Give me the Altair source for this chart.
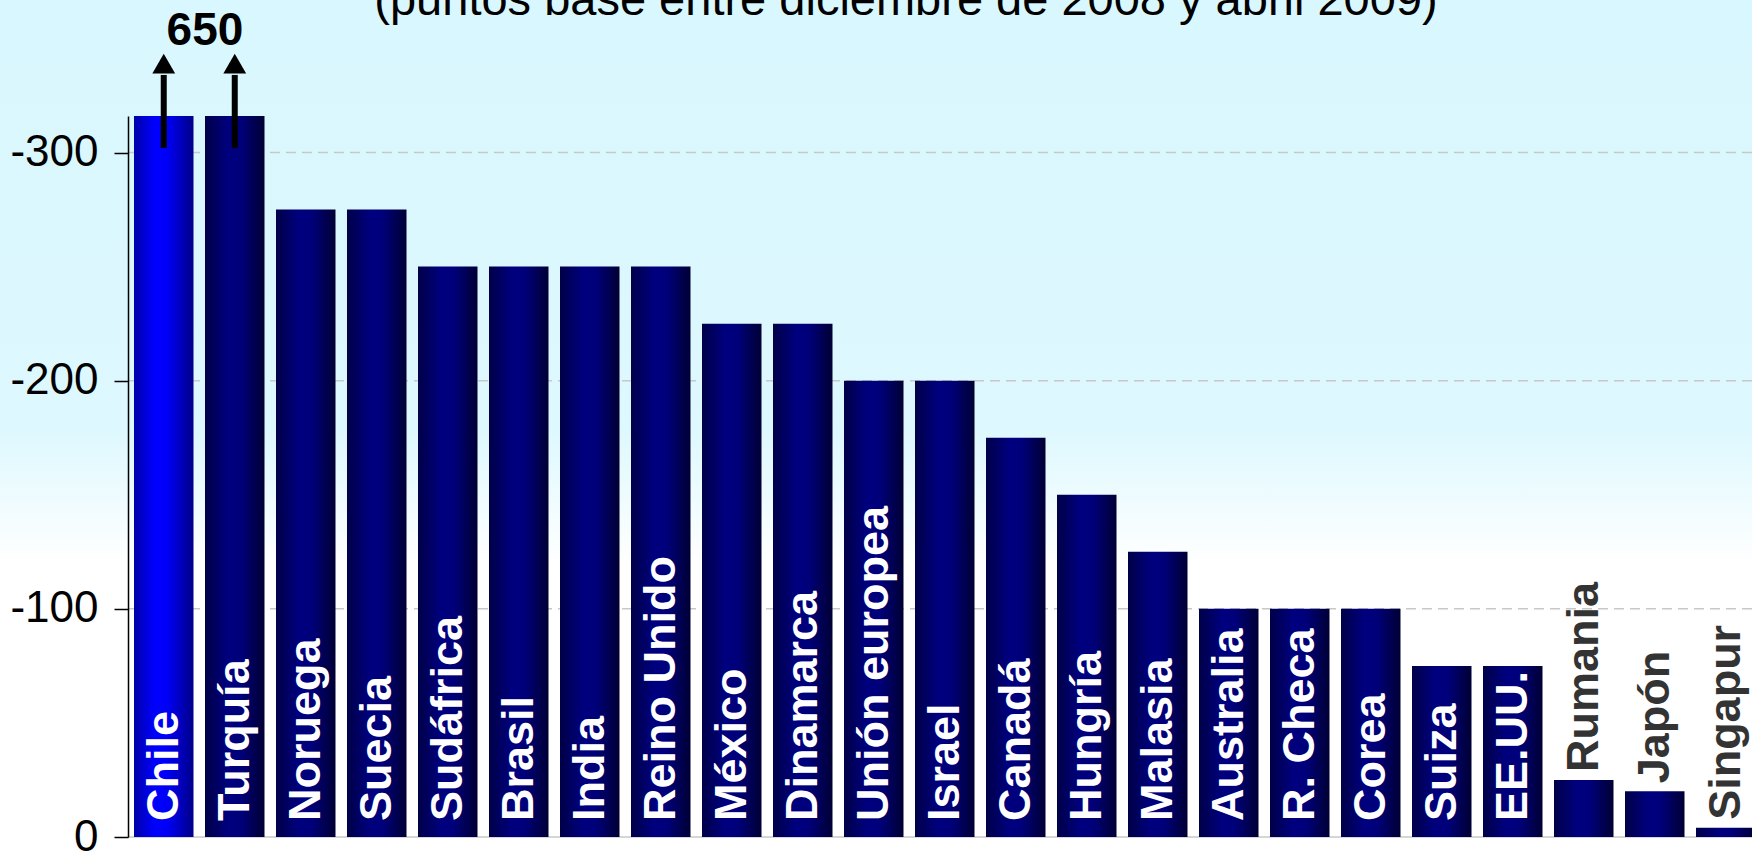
import altair as alt
import pandas as pd

# ---------------- data ----------------
paises = ["Chile", "Turquía", "Noruega", "Suecia", "Sudáfrica", "Brasil", "India",
          "Reino Unido", "México", "Dinamarca", "Unión europea", "Israel", "Canadá",
          "Hungría", "Malasia", "Australia", "R. Checa", "Corea", "Suiza", "EE.UU.",
          "Rumania", "Japón", "Singapur"]
valores = [-650, -650, -275, -275, -250, -250, -250, -250, -225, -225, -200, -200,
           -175, -150, -125, -100, -100, -100, -75, -75, -25, -20, -4]
destacado = ["Chile"]
con_flecha = ["Chile", "Turquía"]
etiqueta_flecha = "650"
marcas_y = [0, -100, -200, -300]
lineas_guia = [-100, -200, -300]
titulo = "(puntos base entre diciembre de 2008 y abril 2009)"

df = pd.DataFrame({"pais": paises, "valor": valores})
df_flecha = pd.DataFrame({"pais": con_flecha})
df_etq = pd.DataFrame({"pais": [con_flecha[-1]], "texto": [etiqueta_flecha]})
df_grid = pd.DataFrame({"y": lineas_guia})
df_base = pd.DataFrame({"y": [0]})
df_fondo = pd.DataFrame({"k": [0]})
df_titulo = pd.DataFrame({"t": [titulo]})

FONT = "Liberation Sans"
W, H = 1624, 721
PAD_L, PAD_T, PAD_B = 128, 116, 19
Y_TOP = -316

xscale = alt.Scale(domain=paises, range=[0, 1633.5], paddingInner=0.162, paddingOuter=0.0845)
yscale = alt.Scale(domain=[Y_TOP, 0], reverse=True, nice=False, zero=False)

X = alt.X("pais:N", scale=xscale, axis=None, sort=paises)

# background gradient over whole canvas
fondo_grad = alt.Gradient(
    gradient="linear", x1=0, y1=0, x2=0, y2=1,
    stops=[alt.GradientStop(offset=0, color="#d9f7fe"),
           alt.GradientStop(offset=0.5, color="#ddf8fe"),
           alt.GradientStop(offset=0.66, color="#ffffff"),
           alt.GradientStop(offset=1, color="#ffffff")])
fondo = alt.Chart(df_fondo).mark_rect(fill=fondo_grad, strokeWidth=0).encode(
    x=alt.value(-PAD_L), x2=alt.value(W + 10), y=alt.value(-PAD_T), y2=alt.value(H + PAD_B))

grid = alt.Chart(df_grid).mark_rule(color="#c8c8c8", strokeWidth=1.5, strokeDash=[10, 6]).encode(
    y=alt.Y("y:Q", scale=yscale))
base = alt.Chart(df_base).mark_rule(color="#c8c8c8", strokeWidth=1.5).encode(
    y=alt.Y("y:Q", scale=yscale))

navy = alt.Gradient(
    gradient="linear", x1=0, y1=0, x2=1, y2=0,
    stops=[alt.GradientStop(offset=0, color="#000048"),
           alt.GradientStop(offset=0.4, color="#000080"),
           alt.GradientStop(offset=0.6, color="#00007a"),
           alt.GradientStop(offset=1, color="#000034")])
azul = alt.Gradient(
    gradient="linear", x1=0, y1=0, x2=1, y2=0,
    stops=[alt.GradientStop(offset=0, color="#0000a8"),
           alt.GradientStop(offset=0.35, color="#0000ff"),
           alt.GradientStop(offset=0.55, color="#0000f8"),
           alt.GradientStop(offset=1, color="#000088")])

yaxis = alt.Axis(values=marcas_y, grid=False, domainColor="black", domainWidth=1.5,
                 tickColor="black", tickWidth=1.5, tickSize=14, labelFont=FONT,
                 labelFontSize=44, labelColor="black", labelPadding=16, labelFlush=False,
                 title=None, zindex=1,
                 labelExpr="datum.value == 0 ? '0' : '-' + abs(datum.value)")

lista_dest = str(destacado).replace("'", '"')

barras = alt.Chart(df).transform_filter(
    "indexof(%s, datum.pais) < 0" % lista_dest
).mark_bar(color=navy, clip=True).encode(
    x=X, y=alt.Y("valor:Q", scale=yscale, axis=yaxis))

barra_dest = alt.Chart(df).transform_filter(
    "indexof(%s, datum.pais) >= 0" % lista_dest
).mark_bar(color=azul, clip=True).encode(
    x=X, y=alt.Y("valor:Q", scale=yscale))

et_dentro = alt.Chart(df).transform_filter("datum.valor <= -50").mark_text(
    angle=270, align="left", baseline="middle", dx=16, font=FONT, fontSize=45,
    fontWeight="bold", color="white").encode(
    x=X, y=alt.datum(0), text="pais:N")

et_fuera = alt.Chart(df).transform_filter("datum.valor > -50").mark_text(
    angle=270, align="left", baseline="middle", dx=8, font=FONT, fontSize=45,
    fontWeight="bold", color="#333333").encode(
    x=X, y=alt.Y("valor:Q", scale=yscale), text="pais:N")

flecha = alt.Chart(df_flecha).mark_rule(color="black", strokeWidth=6).encode(
    x=X, y=alt.datum(-302, scale=yscale), y2=alt.datum(-334))
punta = alt.Chart(df_flecha).mark_point(shape="triangle-up", filled=True, color="black",
                                        size=520, opacity=1, strokeWidth=0).encode(
    x=X, y=alt.datum(-339, scale=yscale))
etq = alt.Chart(df_etq).mark_text(font=FONT, fontSize=46, fontWeight="bold", color="black",
                                  align="center", baseline="alphabetic").encode(
    x=alt.X("pais:N", scale=xscale, axis=None, bandPosition=0),
    y=alt.datum(-347, scale=yscale), text="texto:N")

# subtitle (partly above the visible area, as in the reference)
tit = alt.Chart(df_titulo).mark_text(font=FONT, fontSize=47, color="black",
                                     align="center", baseline="alphabetic").encode(
    x=alt.value(906 - PAD_L), y=alt.value(15 - PAD_T), text="t:N")

chart = alt.layer(fondo, grid, base, barras, barra_dest, et_dentro, et_fuera,
                  flecha, punta, etq, tit).properties(
    width=W, height=H,
    autosize=alt.AutoSizeParams(type="none"),
    padding={"left": PAD_L, "top": PAD_T, "right": 0, "bottom": PAD_B},
).configure_view(stroke=None).configure(background="white")

chart.save("out.html", embed_options={"renderer": "svg", "actions": False})
